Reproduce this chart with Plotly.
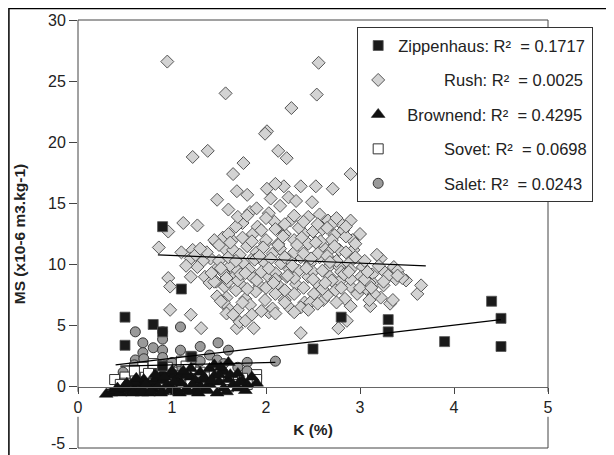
import plotly.graph_objects as go

# ---------------- data ----------------
zip_x = [0.9, 1.1, 0.5, 0.5, 0.8, 0.9, 1.2, 2.8, 3.3, 3.3, 2.5, 3.9, 4.4, 4.5, 4.5, 1.21, 0.9]
zip_y = [13.1, 8.0, 5.7, 3.4, 5.1, 4.5, 2.5, 5.7, 5.5, 4.5, 3.1, 3.7, 7.0, 5.6, 3.3, 2.45, 1.7]

rush_x = [0.95, 2.56, 1.57, 2.54, 2.27, 2.01, 1.99, 2.13, 2.22, 1.38, 1.22, 1.76, 1.65, 2.90, 1.48,
          1.12, 1.27, 0.86, 0.96, 0.96, 0.98, 0.98, 1.20, 1.31, 1.87, 2.37, 2.77, 2.86, 1.69, 1.72,
          3.61, 3.65, 3.49, 3.36, 3.22, 3.32, 3.11, 3.00, 2.71, 2.53, 2.37, 2.19, 2.10, 2.01, 2.05,
          2.24, 2.32, 2.49, 1.69, 1.80, 1.83, 1.75, 2.03, 2.09, 2.26, 2.45, 2.57, 2.66, 2.78, 2.90,
          2.82, 2.73, 2.92, 2.93, 2.78, 2.68, 2.60, 2.41, 2.30, 2.20, 2.13, 1.99, 1.86, 1.91, 1.68,
          1.64, 1.54, 1.47, 1.56, 1.41, 1.33, 1.22, 1.20, 1.27, 1.20, 1.37, 1.49, 1.62, 1.76, 1.87,
          1.99, 2.07, 2.16, 2.26, 2.37, 2.47, 2.57, 2.68, 2.78, 2.88, 3.03, 3.13, 3.26, 3.38, 3.15,
          3.01, 2.90, 2.78, 2.68, 2.55, 2.45, 2.32, 2.22, 2.12, 2.03, 1.93, 1.85, 1.74, 1.66, 1.56,
          1.47, 1.58, 1.68, 1.78, 1.89, 1.99, 2.10, 2.20, 2.30, 2.41, 2.51, 2.61, 2.74, 2.84, 2.97,
          3.07, 3.22, 1.60, 1.70, 1.83, 2.03, 2.07, 2.26, 2.37, 2.47, 1.78, 1.58,
          1.50, 1.55, 1.60, 1.65, 1.70, 1.72, 1.80, 1.82, 1.90, 1.95, 2.00, 2.05, 2.10, 2.15, 2.20,
          2.25, 2.30, 2.35, 2.40, 2.45, 2.50, 2.55, 2.60, 2.65, 2.70, 2.75, 2.80, 2.85, 2.90, 2.95,
          3.05, 3.10, 3.20, 3.25, 3.30, 3.35, 3.40, 3.45, 3.15, 3.05,
          1.45, 1.50, 1.60, 1.75, 1.85, 1.95, 2.10, 2.20, 2.35, 2.50, 2.60, 2.70, 2.85, 2.95,
          1.55, 1.65, 1.75, 1.85, 1.95, 2.10, 2.20, 2.30, 2.45, 2.55, 2.65, 2.75, 2.90,
          1.60, 1.70, 1.80, 1.90, 2.00, 2.10, 2.20, 2.30, 2.40, 2.50, 2.60, 2.70, 2.80, 2.90, 3.00,
          3.10, 3.25, 3.40,
          1.10, 1.15, 1.25, 1.30, 1.35, 1.40, 1.45, 1.48, 1.52,
          1.60, 1.70, 1.80, 1.90, 2.00, 2.15, 2.30, 2.40, 2.55, 2.65, 2.75, 2.85,
          1.52, 1.62, 1.73, 1.88, 1.97, 2.08, 2.18, 2.28, 2.38, 2.48, 2.58, 2.68, 2.83, 3.08, 3.18,
          1.42, 1.58, 1.68, 1.78, 1.93, 2.03, 2.13, 2.23, 2.33, 2.43, 2.53, 2.63, 2.73, 2.88, 3.12]
rush_y = [26.6, 26.5, 24.0, 23.9, 22.8, 20.9, 20.7, 19.3, 18.7, 19.3, 18.8, 18.3, 17.4, 17.4, 15.3,
          13.4, 13.2, 11.4, 12.7, 8.9, 8.2, 6.3, 5.9, 4.8, 4.8, 4.4, 4.8, 5.4, 4.8, 5.3,
          7.6, 8.3, 8.7, 9.8, 10.5, 6.8, 6.6, 12.5, 16.2, 16.4, 16.4, 16.4, 16.6, 16.2, 15.4,
          15.5, 15.2, 15.1, 16.0, 15.7, 14.3, 13.4, 14.2, 13.5, 13.6, 13.9, 14.1, 13.6, 13.5, 13.6,
          12.8, 12.4, 12.0, 11.2, 11.2, 11.2, 11.5, 12.5, 12.0, 12.5, 11.7, 11.7, 12.5, 13.1, 13.1,
          12.0, 12.2, 11.8, 11.3, 10.5, 10.3, 11.2, 10.5, 9.8, 9.0, 11.0, 9.8, 9.9, 10.1, 10.6,
          10.1, 10.9, 10.1, 10.3, 10.6, 10.1, 10.6, 9.9, 9.8, 10.1, 9.8, 9.2, 9.4, 8.8, 8.4,
          9.0, 8.2, 8.6, 9.0, 8.4, 9.0, 8.4, 9.0, 8.4, 9.0, 8.3, 9.0, 8.3, 9.0, 8.2,
          8.6, 7.3, 7.9, 7.2, 7.8, 7.1, 7.6, 7.1, 7.6, 6.9, 7.6, 7.1, 7.9, 7.2, 7.6,
          8.0, 7.3, 6.4, 6.3, 6.7, 6.1, 6.4, 6.4, 6.5, 6.9, 5.4, 6.0,
          10.3, 9.3, 10.6, 11.2, 9.5, 10.8, 11.5, 9.6, 11.0, 9.4, 12.0, 10.5, 9.3, 11.3, 10.6,
          9.6, 11.0, 9.5, 10.9, 11.7, 9.4, 10.9, 9.5, 10.7, 12.0, 10.3, 9.4, 11.0, 9.6, 10.6,
          10.3, 8.5, 9.9, 8.3, 9.1, 7.1, 9.5, 8.9, 7.6, 8.8,
          12.0, 11.6, 12.5, 12.2, 11.9, 12.8, 12.9, 13.3, 13.0, 12.7, 12.9, 13.3, 12.3, 11.7,
          6.9, 5.9, 6.9, 5.9, 6.2, 6.0, 6.9, 6.1, 6.3, 6.8, 7.5, 6.9, 6.6,
          8.6, 8.7, 8.0, 8.7, 8.1, 8.8, 7.9, 8.9, 8.1, 8.8, 8.0, 8.7, 8.1, 8.8, 8.1,
          7.1, 8.6, 9.1,
          11.0, 9.9, 10.8, 11.3, 9.0, 8.5, 8.6, 7.4, 7.0,
          14.5, 13.9, 14.0, 14.6, 13.8, 14.8, 14.0, 13.5, 13.3, 13.0, 13.8, 13.1,
          9.7, 11.8, 9.2, 10.4, 11.4, 8.5, 12.3, 9.9, 12.2, 10.5, 11.9, 10.2, 9.2, 9.4, 10.8,
          9.3, 8.9, 10.3, 9.3, 10.7, 9.7, 11.6, 9.1, 11.6, 9.7, 11.8, 8.5, 11.5, 9.4, 8.1]

brown_x = [0.30, 0.35, 0.40, 0.45, 0.50, 0.55, 0.60, 0.65, 0.70, 0.70, 0.75, 0.80, 0.80, 0.85, 0.90,
           0.90, 0.95, 1.00, 1.00, 1.05, 1.10, 1.10, 1.15, 1.20, 1.25, 1.30, 1.30, 1.35, 1.40, 1.40,
           1.45, 1.50, 1.55, 1.60, 1.60, 1.65, 1.70, 1.75, 1.80, 1.90, 1.20, 1.00, 0.90, 0.60, 0.50,
           1.45, 1.50, 0.85, 1.15, 1.35, 1.55, 1.25, 1.05, 0.75, 0.65, 1.70, 1.85,
           0.42, 0.52, 0.62, 0.72, 0.82, 0.92, 1.02, 1.12, 1.22, 1.32, 1.42, 1.52, 1.62, 1.72,
           0.58, 0.68, 0.78, 0.88, 0.98, 1.08, 1.18, 1.28, 1.38, 1.48, 1.58, 1.78]
brown_y = [-0.6, -0.5, -0.3, -0.5, -0.2, -0.4, -0.1, 0.3, 0.6, -0.3, 0.2, 0.4, -0.2, 0.7, 0.5,
           -0.4, 0.2, 0.9, -0.1, 0.6, 0.3, 1.0, -0.2, 0.8, 0.5, 1.2, 0.1, 0.7, 1.5, 0.2,
           0.9, 0.4, 1.3, 2.0, 0.6, 0.2, 1.1, 0.5, 0.2, 0.3, 1.5, 1.3, 1.1, 0.4, 0.1,
           1.8, 1.0, 0.0, 0.9, -0.2, -0.1, -0.3, -0.4, -0.5, -0.4, -0.1, 0.8,
           -0.1, 0.3, 0.7, 0.2, 1.0, 0.8, 0.4, 1.3, 0.2, 0.6, 0.5, 1.6, 1.0, 0.4,
           -0.5, -0.5, -0.4, -0.5, -0.3, -0.5, -0.4, -0.5, -0.3, -0.5, -0.4, -0.3]

sovet_x = [0.39, 0.50, 0.61, 0.69, 0.80, 0.80, 0.90, 1.00, 1.10, 1.10, 1.20, 1.30, 1.30, 1.50, 1.60,
           1.60, 1.70, 1.90, 1.90, 0.50, 0.60, 0.70, 0.90, 1.00, 1.20, 1.40, 1.80,
           0.45, 0.75, 0.95, 1.15, 1.45, 1.75]
sovet_y = [0.6, 0.8, 1.0, 1.6, 1.9, 0.8, 1.3, 1.2, 2.1, 0.9, 1.5, 1.2, 0.3, 1.0, 0.0,
           0.6, 0.2, 1.0, 0.6, 0.3, 1.3, 0.4, 0.3, 0.6, 0.5, 0.8, 0.2,
           0.2, 1.1, 1.6, 1.7, 1.3, 0.7]

salet_x = [0.61, 0.69, 0.69, 0.80, 0.90, 0.90, 0.90, 0.90, 1.09, 1.09, 1.30, 1.40, 1.49, 1.60, 0.61,
           0.61, 0.48, 1.80, 1.80, 2.10, 1.30, 1.09, 1.48, 0.69, 0.79, 0.90, 1.00, 1.20,
           0.70, 0.60, 1.10, 1.25, 1.55, 1.70]
salet_y = [4.5, 3.6, 2.8, 3.2, 4.5, 3.9, 3.0, 2.4, 4.9, 3.0, 3.3, 2.6, 3.6, 3.0, 2.2,
           1.4, 1.2, 2.0, 1.3, 2.1, 2.1, 2.1, 2.2, 1.7, 1.2, 1.8, 2.0, 2.0,
           2.3, 1.8, 1.5, 1.4, 1.9, 1.6]

# trend lines (start/end)
zip_trend_x, zip_trend_y = [0.4, 4.5], [1.8, 5.5]
rush_trend_x, rush_trend_y = [0.85, 3.7], [10.8, 9.9]
brown_trend_x, brown_trend_y = [0.3, 1.9], [-0.2, 0.7]
sovet_trend_x, sovet_trend_y = [0.4, 1.9], [0.7, 0.9]
salet_trend_x, salet_trend_y = [0.45, 2.1], [1.7, 2.0]

names = ["Zippenhaus", "Rush", "Brownend", "Sovet", "Salet"]
r2 = ["0.1717", "0.0025", "0.4295", "0.0698", "0.0243"]
pads = [0, 5, 1, 5, 5]  # figure-space padding to right-align legend labels

x_ticks = [0, 1, 2, 3, 4, 5]
y_ticks = [0, 5, 10, 15, 20, 25, 30]
y_bottom_tick = -5
XMIN, XMAX, YMIN, YMAX = 0, 5, -5, 30

FONT = "Liberation Sans, Arial, sans-serif"


def label(i):
    return "\u2007" * pads[i] + f"{names[i]}: R\u00b2  = {r2[i]}"


fig = go.Figure()

# hidden trend lines (under markers)
for tx, ty in [(brown_trend_x, brown_trend_y), (sovet_trend_x, sovet_trend_y)]:
    fig.add_trace(go.Scatter(x=tx, y=ty, mode="lines", line=dict(color="black", width=1.2),
                             showlegend=False, hoverinfo="skip"))

fig.add_trace(go.Scatter(x=salet_x, y=salet_y, mode="markers", name=label(4), legendrank=5,
                         legendgroup="g5",
                         marker=dict(symbol="circle", size=10, color="#9a9a9a",
                                     line=dict(color="#333333", width=1))))
fig.add_trace(go.Scatter(x=sovet_x, y=sovet_y, mode="markers", name=label(3), legendrank=4,
                         legendgroup="g4",
                         marker=dict(symbol="square", size=10, color="white",
                                     line=dict(color="#333333", width=1))))
fig.add_trace(go.Scatter(x=brown_x, y=brown_y, mode="markers", name=label(2), legendrank=3,
                         legendgroup="g3",
                         marker=dict(symbol="triangle-up", size=12, color="#111111",
                                     line=dict(color="#111111", width=0.5))))
fig.add_trace(go.Scatter(x=rush_x, y=rush_y, mode="markers", name=label(1), legendrank=2,
                         legendgroup="g2",
                         marker=dict(symbol="diamond", size=10, color="#d3d3d3",
                                     line=dict(color="#555555", width=1))))
fig.add_trace(go.Scatter(x=zip_x, y=zip_y, mode="markers", name=label(0), legendrank=1,
                         legendgroup="g1",
                         marker=dict(symbol="square", size=10, color="#1a1a1a",
                                     line=dict(color="#555555", width=0.8))))

for tx, ty in [(rush_trend_x, rush_trend_y), (zip_trend_x, zip_trend_y),
               (salet_trend_x, salet_trend_y)]:
    fig.add_trace(go.Scatter(x=tx, y=ty, mode="lines", line=dict(color="black", width=1.2),
                             showlegend=False, hoverinfo="skip"))


def yp(v):
    return (v - YMIN) / (YMAX - YMIN)


frame = dict(color="#444444", width=1)
shapes = [
    # outer chart border
    dict(type="rect", xref="paper", yref="paper", x0=-0.147, x1=1.3, y0=-0.2, y1=1.0268,
         line=dict(color="black", width=1.5), layer="below"),
    # plot frame (broken behind the 0 and 5 tick labels)
    dict(type="line", xref="paper", yref="paper", x0=0, x1=1, y0=1, y1=1, line=frame),
    dict(type="line", xref="paper", yref="paper", x0=0, x1=1, y0=0, y1=0, line=frame),
    dict(type="line", xref="paper", yref="paper", x0=0, x1=0, y0=yp(-0.4), y1=1, line=frame),
    dict(type="line", xref="paper", yref="paper", x0=0, x1=0, y0=0, y1=yp(-2.45), line=frame),
    dict(type="line", xref="paper", yref="paper", x0=1, x1=1, y0=yp(-0.4), y1=1, line=frame),
    dict(type="line", xref="paper", yref="paper", x0=1, x1=1, y0=0, y1=yp(-2.45), line=frame),
]

# bottom y tick label, lifted slightly so it stays inside the picture (as in the reference)
annotations = [
    dict(text=str(y_bottom_tick), xref="paper", yref="y", x=0, y=y_bottom_tick,
         xanchor="right", yanchor="middle", xshift=-11, yshift=5, showarrow=False,
         font=dict(family=FONT, size=16, color="#222222")),
]

fig.update_layout(
    width=606, height=447,
    margin=dict(l=70, r=66, t=12, b=7),
    paper_bgcolor="white", plot_bgcolor="white",
    font=dict(family=FONT, size=16, color="#222222"),
    shapes=shapes,
    annotations=annotations,
    showlegend=True,
    legend=dict(x=0.594, y=0.983, xanchor="left", yanchor="top",
                bgcolor="white", bordercolor="#333333", borderwidth=1,
                font=dict(family=FONT, size=16.5, color="#222222"),
                tracegroupgap=10, itemwidth=30),
    xaxis=dict(range=[XMIN, XMAX], tickvals=x_ticks, ticktext=[str(v) for v in x_ticks],
               showgrid=False, zeroline=False, showline=True, linecolor="#666666", linewidth=1.2,
               ticks="outside", ticklen=6, tickcolor="#444444", automargin=False,
               anchor="free", position=yp(0),
               title=dict(text="<b>K (%)</b>", font=dict(size=15.5), standoff=8)),
    yaxis=dict(range=[YMIN, YMAX], tickvals=y_ticks, ticktext=[str(v) for v in y_ticks],
               showgrid=False, zeroline=False, showline=False,
               ticks="outside", ticklen=8, tickcolor="#444444", automargin=False,
               minor=dict(tickvals=[y_bottom_tick], ticks="outside", ticklen=8,
                          tickcolor="#444444", showgrid=False),
               title=dict(text="<b>MS (x10-6 m3.kg-1)</b>", font=dict(size=15.5), standoff=18)),
)

fig.write_html("out.html")
